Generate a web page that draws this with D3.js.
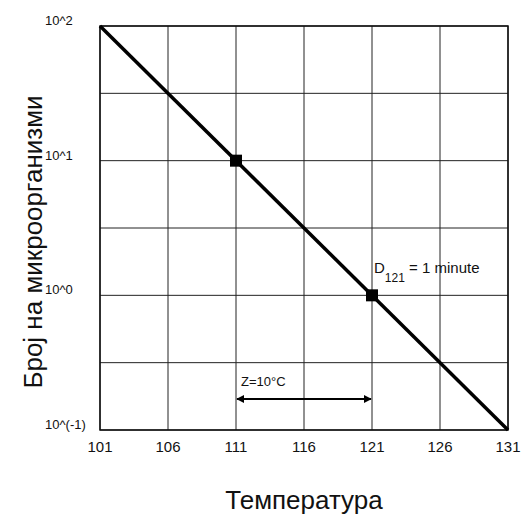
<!DOCTYPE html>
<html lang="mk">
<head>
  <meta charset="UTF-8">
  <title>D-value chart</title>
  <script src="https://cdn.jsdelivr.net/npm/d3@7"></script>
  <style>
    body { margin: 0; background: #fff; }
    svg text { font-family: "Liberation Sans", Arial, sans-serif; fill: #111; }
    .grid line { stroke: #222; stroke-width: 1; }
  </style>
</head>
<body>
  <svg id="chart" width="523" height="523"></svg>
  <script>
    // data
    const xTicks = [101, 106, 111, 116, 121, 126, 131]
    const yTicks = [100, 10, 1, 0.1]
    const yTickLabels = ['10^2', '10^1', '10^0', '10^(-1)']
    const yGrid = [100, 31.62, 10, 3.162, 1, 0.3162, 0.1]
    const lineTemps = [101, 131]
    const lineCounts = [100, 0.1]
    const markerTemps = [111, 121]
    const markerCounts = [10, 1]

    const svg = d3.select('#chart')
    const x = d3.scaleLinear().domain([101, 131]).range([100, 508])
    const y = d3.scaleLog().domain([0.1, 100]).range([430, 26])

    // grid
    const grid = svg.append('g').attr('class', 'grid')
    grid.selectAll('.v').data(xTicks).enter().append('line')
      .attr('x1', d => x(d)).attr('x2', d => x(d))
      .attr('y1', y(100)).attr('y2', y(0.1))
    grid.selectAll('.h').data(yGrid).enter().append('line')
      .attr('x1', x(101)).attr('x2', x(131))
      .attr('y1', d => y(d)).attr('y2', d => y(d))
    svg.append('rect')
      .attr('x', x(101)).attr('y', y(100))
      .attr('width', x(131) - x(101)).attr('height', y(0.1) - y(100))
      .attr('fill', 'none').attr('stroke', '#111').attr('stroke-width', 1.5)

    // tick labels
    svg.selectAll('.xt').data(xTicks).enter().append('text')
      .attr('x', d => x(d)).attr('y', 452)
      .attr('text-anchor', 'middle').attr('font-size', 15)
      .text(d => d)
    svg.selectAll('.yt').data(yTicks).enter().append('text')
      .attr('x', 45).attr('y', d => y(d) - 1)
      .attr('font-size', 13)
      .text((d, i) => yTickLabels[i])

    // main line
    const pts = lineTemps.map((t, i) => [x(t), y(lineCounts[i])])
    svg.append('path')
      .attr('d', d3.line()(pts))
      .attr('stroke', '#000').attr('stroke-width', 3.5).attr('fill', 'none')

    // markers
    svg.selectAll('.m').data(markerTemps).enter().append('rect')
      .attr('x', d => x(d) - 6)
      .attr('y', (d, i) => y(markerCounts[i]) - 6)
      .attr('width', 12).attr('height', 12).attr('fill', '#000')

    // D annotation
    const dLabel = svg.append('text').attr('x', x(121) + 2).attr('y', y(1) - 22).attr('font-size', 15)
    dLabel.append('tspan').text('D')
    dLabel.append('tspan').attr('font-size', 12).attr('dy', 9).text('121')
    dLabel.append('tspan').attr('dy', -9).text(' = 1 minute')

    // Z arrow
    svg.append('defs').append('marker')
      .attr('id', 'arr').attr('viewBox', '0 0 10 10').attr('refX', 9).attr('refY', 5)
      .attr('markerWidth', 4).attr('markerHeight', 4).attr('orient', 'auto-start-reverse')
      .append('path').attr('d', 'M0,0 L10,5 L0,10 z').attr('fill', '#000')
    svg.append('line')
      .attr('x1', x(111) + 1).attr('x2', x(121) - 1)
      .attr('y1', 399).attr('y2', 399)
      .attr('stroke', '#000').attr('stroke-width', 2)
      .attr('marker-start', 'url(#arr)').attr('marker-end', 'url(#arr)')
    svg.append('text').attr('x', x(111) + 5).attr('y', 386).attr('font-size', 13).text('Z=10°C')

    // axis titles
    svg.append('text')
      .attr('transform', 'translate(42,' + 242 + ') rotate(-90)')
      .attr('text-anchor', 'middle').attr('font-size', 26)
      .attr('font-family', '"Open Sans", sans-serif')
      .text('Број на микроорганизми')
    svg.append('text')
      .attr('x', 304).attr('y', 509)
      .attr('text-anchor', 'middle').attr('font-size', 26)
      .attr('font-family', '"Open Sans", sans-serif')
      .text('Температура')
  </script>
</body>
</html>
